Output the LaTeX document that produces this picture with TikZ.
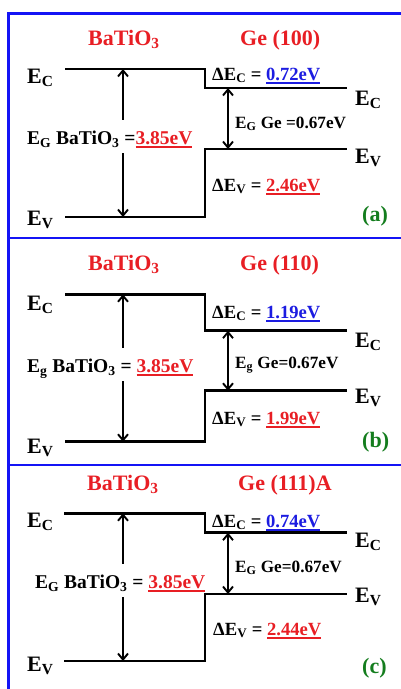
\documentclass[tikz,border=0pt]{standalone}
\usepackage{fontspec}
\setmainfont{Liberation Serif}
\usepackage{tikz}
\usetikzlibrary{arrows.meta,calc}
\definecolor{titred}{RGB}{232,30,36}
\definecolor{valblue}{RGB}{28,28,225}
\definecolor{tagreen}{RGB}{20,125,30}
\definecolor{framblue}{RGB}{20,20,245}
\newcommand{\ulval}[1]{\setbox0\hbox{#1}\rlap{\rule[-3.5pt]{\wd0}{1.6pt}}\box0}

\begin{document}
\begin{tikzpicture}[x=1pt,y=-1pt,
  >={Straight Barb[length=6pt,width=10pt]},
  band/.style={line width=2.6pt},
  arr/.style={line width=1.9pt},
  hdr/.style={text=titred,font=\fontsize{22}{26}\selectfont\bfseries,anchor=base west,inner sep=0pt},
  lvl/.style={font=\fontsize{22}{26}\selectfont\bfseries,anchor=base west,inner sep=0pt},
  offs/.style={font=\fontsize{18.6}{22}\selectfont\bfseries,anchor=base west,inner sep=0pt},
  gelbl/.style={font=\fontsize{17.2}{20}\selectfont\bfseries,anchor=base west,inner sep=0pt},
  gaplbl/.style={font=\fontsize{19.5}{22}\selectfont\bfseries,anchor=base west,inner sep=0pt,text height=24pt,text depth=9pt},
  tag/.style={text=tagreen,font=\fontsize{22}{26}\selectfont\bfseries,anchor=base west,inner sep=0pt}]
  \useasboundingbox (0,0) rectangle (401,689);
  % Frame and panel dividers
  \draw[framblue,line width=3pt] (8.7,689) -- (8.7,13.8) -- (401,13.8);
  \draw[framblue,line width=2pt] (8.7,237.5) -- (401,237.5);
  \draw[framblue,line width=2pt] (8.7,465) -- (401,465);

  % ---------- Panel (a): Ge (100)
  \coordinate (aCL) at (65,69);
  \coordinate (aCS) at (205,69);
  \coordinate (aCR) at (347,88);
  \coordinate (aVL) at (65,217);
  \coordinate (aVS) at (205,217);
  \coordinate (aVR) at (347,149);
  \coordinate (aGt) at (123,69);
  \coordinate (aGb) at (123,217);
  \coordinate (aGeT) at (228,88);
  \coordinate (aGeB) at (228,149);
  % Band edges
  \draw[band] (aCL) -- (aCS) |- (aCR);
  \draw[band] (aVL) -- (aVS) |- (aVR);
  % Titles
  \node[hdr] (aBTO) at (88,45) {BaTiO\textsubscript{3}};
  \node[hdr] (aGe) at (240,45) {Ge (100)};
  % Level labels
  \node[lvl] (aEcL) at (27,83) {E\textsubscript{C}};
  \node[lvl] (aEvL) at (27,225) {E\textsubscript{V}};
  \node[lvl] (aEcR) at (355,105) {E\textsubscript{C}};
  \node[lvl] (aEvR) at (355,163) {E\textsubscript{V}};
  % Gaps and offsets
  \node[gaplbl] (aEg) at (27,144) {E\textsubscript{G} BaTiO\textsubscript{3} =\textcolor{titred}{\ulval{3.85eV}}};
  \draw[arr,->] (aEg.north -| aGt) -- (aGt);
  \draw[arr,->] (aEg.south -| aGb) -- (aGb);
  \draw[arr,<->] (aGeT) -- (aGeB);
  \node[gelbl] (aEgGe) at (235,128) {E\textsubscript{G} Ge =0.67eV};
  \node[offs] (aDEc) at (212,80) {ΔE\textsubscript{C} = \textcolor{valblue}{\ulval{0.72eV}}};
  \node[offs] (aDEv) at (212,191) {ΔE\textsubscript{V} = \textcolor{titred}{\ulval{2.46eV}}};
  \node[tag] (aTag) at (362,221) {(a)};

  % ---------- Panel (b): Ge (110)
  \coordinate (bCL) at (65,294.3);
  \coordinate (bCS) at (205,294.3);
  \coordinate (bCR) at (347,330.7);
  \coordinate (bVL) at (65,441.7);
  \coordinate (bVS) at (205,441.7);
  \coordinate (bVR) at (347,390.7);
  \coordinate (bGt) at (123,294.3);
  \coordinate (bGb) at (123,441.7);
  \coordinate (bGeT) at (228,330.7);
  \coordinate (bGeB) at (228,390.7);
  % Band edges
  \draw[band] (bCL) -- (bCS) |- (bCR);
  \draw[band] (bVL) -- (bVS) |- (bVR);
  % Titles
  \node[hdr] (bBTO) at (88,270) {BaTiO\textsubscript{3}};
  \node[hdr] (bGe) at (240,270) {Ge (110)};
  % Level labels
  \node[lvl] (bEcL) at (27,310) {E\textsubscript{C}};
  \node[lvl] (bEvL) at (27,453) {E\textsubscript{V}};
  \node[lvl] (bEcR) at (355,347) {E\textsubscript{C}};
  \node[lvl] (bEvR) at (355,403) {E\textsubscript{V}};
  % Gaps and offsets
  \node[gaplbl] (bEg) at (27,372) {E\textsubscript{g} BaTiO\textsubscript{3} = \textcolor{titred}{\ulval{3.85eV}}};
  \draw[arr,->] (bEg.north -| bGt) -- (bGt);
  \draw[arr,->] (bEg.south -| bGb) -- (bGb);
  \draw[arr,<->] (bGeT) -- (bGeB);
  \node[gelbl] (bEgGe) at (235,368) {E\textsubscript{g} Ge=0.67eV};
  \node[offs] (bDEc) at (212,318) {ΔE\textsubscript{C} = \textcolor{valblue}{\ulval{1.19eV}}};
  \node[offs] (bDEv) at (212,424) {ΔE\textsubscript{V} = \textcolor{titred}{\ulval{1.99eV}}};
  \node[tag] (bTag) at (362,447) {(b)};

  % ---------- Panel (c): Ge (111)A
  \coordinate (cCL) at (64,513.3);
  \coordinate (cCS) at (205,513.3);
  \coordinate (cCR) at (347,532.7);
  \coordinate (cVL) at (64,661);
  \coordinate (cVS) at (205,661);
  \coordinate (cVR) at (347,594);
  \coordinate (cGt) at (123,513.3);
  \coordinate (cGb) at (123,661);
  \coordinate (cGeT) at (228,532.7);
  \coordinate (cGeB) at (228,594);
  % Band edges
  \draw[band] (cCL) -- (cCS) |- (cCR);
  \draw[band] (cVL) -- (cVS) |- (cVR);
  % Titles
  \node[hdr] (cBTO) at (87,490) {BaTiO\textsubscript{3}};
  \node[hdr] (cGe) at (238,490) {Ge (111)A};
  % Level labels
  \node[lvl] (cEcL) at (27,527) {E\textsubscript{C}};
  \node[lvl] (cEvL) at (27,671) {E\textsubscript{V}};
  \node[lvl] (cEcR) at (355,547) {E\textsubscript{C}};
  \node[lvl] (cEvR) at (355,602) {E\textsubscript{V}};
  % Gaps and offsets
  \node[gaplbl] (cEg) at (35,588) {E\textsubscript{G} BaTiO\textsubscript{3} = \textcolor{titred}{\ulval{3.85eV}}};
  \draw[arr,->] (cEg.north -| cGt) -- (cGt);
  \draw[arr,->] (cEg.south -| cGb) -- (cGb);
  \draw[arr,<->] (cGeT) -- (cGeB);
  \node[gelbl] (cEgGe) at (235,572) {E\textsubscript{G} Ge=0.67eV};
  \node[offs] (cDEc) at (212,527) {ΔE\textsubscript{C} = \textcolor{valblue}{\ulval{0.74eV}}};
  \node[offs] (cDEv) at (213,635) {ΔE\textsubscript{V} = \textcolor{titred}{\ulval{2.44eV}}};
  \node[tag] (cTag) at (362,673) {(c)};
\end{tikzpicture}
\end{document}
